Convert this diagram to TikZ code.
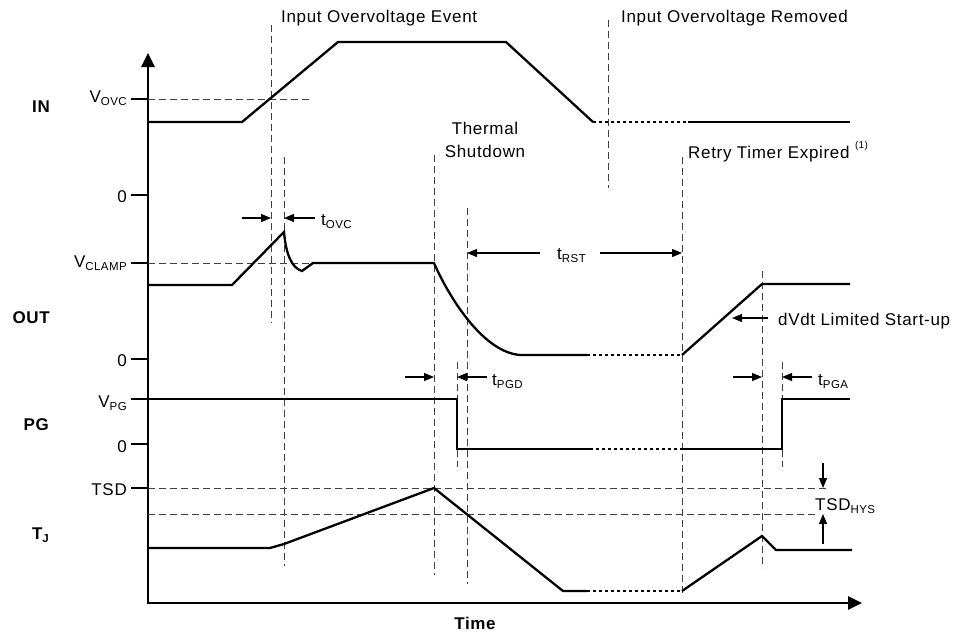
\documentclass[tikz,border=0pt]{standalone}
\usepackage{fontspec}
\setmainfont{Liberation Sans}[LetterSpace=4]
\usetikzlibrary{arrows.meta}
\newcommand\lowidx[1]{\raisebox{-0.35ex}{\fontsize{11.5}{12}\selectfont #1}}

\begin{document}
\begin{tikzpicture}[x=1pt, y=-1pt,
    every node/.style={font=\fontsize{17}{20}\selectfont, inner sep=0pt},
    signal/.style={line width=2.3pt},
    pending/.style={line width=2.3pt, dash pattern=on 3pt off 3pt},
    guide/.style={black!75, line width=0.9pt, dash pattern=on 7pt off 4pt},
    axis/.style={line width=2.6pt},
    tick/.style={line width=1.2pt},
    gap/.style={line width=1.2pt, -{Triangle[length=10pt,width=8pt]}},
    rowname/.style={font=\fontsize{17}{20}\selectfont\bfseries, anchor=base east},
    level/.style={anchor=base east},
    note/.style={anchor=base west}]

    \useasboundingbox (0,0) rectangle (955,633);

    % axes
    \coordinate (origin) at (148,603);
    \draw[axis, {Triangle[length=14pt,width=13pt]}-{Triangle[length=14pt,width=13pt]}] (148,53) -- (origin) -- (862,603);

    % row names
    \node[rowname] (in) at (50,112) {IN};
    \node[rowname] (out) at (50,323) {OUT};
    \node[rowname] (pg) at (49,430) {PG};
    \node[rowname] (tj) at (49,539) {T\lowidx{J}};
    \node[font=\fontsize{17}{20}\selectfont\bfseries, anchor=base] (time) at (475,629) {Time};

    % levels on the axis
    \node[level] (vovc) at (127,102) {V\lowidx{OVC}};
    \node[level] (zeroin) at (127,202) {0};
    \node[level] (vclamp) at (127,267) {V\lowidx{CLAMP}};
    \node[level] (zeroout) at (127,366) {0};
    \node[level] (vpg) at (127,407) {V\lowidx{PG}};
    \node[level] (zeropg) at (127,452) {0};
    \node[level] (tsd) at (127,495) {TSD};
    \draw[tick] (131,99) -- (148,99);
    \draw[tick] (131,195) -- (148,195);
    \draw[tick] (131,263) -- (148,263);
    \draw[tick] (131,359) -- (148,359);
    \draw[tick] (131,399) -- (148,399);
    \draw[tick] (131,444) -- (148,444);
    \draw[tick] (131,488) -- (148,488);

    % dashed guides
    \draw[guide] (148,99) -- (312,99);
    \draw[guide] (148,263) -- (313,263);
    \draw[guide] (148,488) -- (826,488);
    \draw[guide] (148,514) -- (818,514);
    \draw[guide] (271,25) -- (271,323);
    \draw[guide] (284,157) -- (284,566);
    \draw[guide] (434,155) -- (434,575);
    \draw[guide] (457,362) -- (457,467);
    \draw[guide] (467,208) -- (467,584);
    \draw[guide] (608,20) -- (608,188);
    \draw[guide] (682,157) -- (682,595);
    \draw[guide] (762,271) -- (762,568);
    \draw[guide] (782,362) -- (782,467);

    % IN
    \draw[signal] (148,122) -- (242,122) -- (338,42) -- (506,42) -- (593,122);
    \draw[pending] (593,122) -- (686,122);
    \draw[signal] (688,122) -- (850,122);

    % OUT
    \draw[signal] (148,285) -- (232,285) -- (284,232)
        .. controls (286,255) and (292,268) .. (302,271) -- (313,263) -- (434,263)
        .. controls (448,295) and (482,352) .. (520,355) -- (587,355);
    \draw[pending] (587,355) -- (682,355);
    \draw[signal] (682,355) -- (762,284) -- (850,284);

    % PG
    \draw[signal] (148,399) -- (457,399) -- (457,449) -- (590,449);
    \draw[pending] (590,449) -- (682,449);
    \draw[signal] (682,449) -- (782,449) -- (782,399) -- (850,399);

    % TJ
    \draw[signal] (148,548) -- (270,548) -- (284,544) -- (434,488) -- (563,591) -- (587,591);
    \draw[pending] (587,591) -- (682,591);
    \draw[signal] (682,591) -- (762,536) -- (776,550) -- (852,550);

    % events
    \node[note] (ovevent) at (281,22) {Input Overvoltage Event};
    \node[note] (ovremoved) at (621,22) {Input Overvoltage Removed};
    \node[anchor=north, align=center, font=\fontsize{17}{23}\selectfont] (thermal) at (485,122) {Thermal\\Shutdown};
    \node[note] (retry) at (688,158) {Retry Timer Expired \raisebox{1.1ex}{\fontsize{10}{10}\selectfont (1)}};

    % timing marks
    \node[note] (tovc) at (321,225) {t\lowidx{OVC}};
    \draw[gap] (242,218) -- (271,218);
    \draw[gap] (315,218) -- (284,218);

    \node[note] (tpgd) at (492,385) {t\lowidx{PGD}};
    \draw[gap] (405,377) -- (434,377);
    \draw[gap] (487,377) -- (457,377);

    \node[note] (trst) at (557,259) {t\lowidx{RST}};
    \draw[gap] (540,253) -- (467,253);
    \draw[gap] (600,253) -- (682,253);

    \node[note] (tpga) at (818,385) {t\lowidx{PGA}};
    \draw[gap] (733,377) -- (762,377);
    \draw[gap] (812,377) -- (782,377);

    \node[note] (dvdt) at (778,325) {dVdt Limited Start-up};
    \draw[gap] (768,318) -- (732,318);

    \node[note] (tsdhys) at (815,510) {TSD\lowidx{HYS}};
    \draw[gap] (823,463) -- (823,488);
    \draw[gap] (823,544) -- (823,514);
\end{tikzpicture}
\end{document}
